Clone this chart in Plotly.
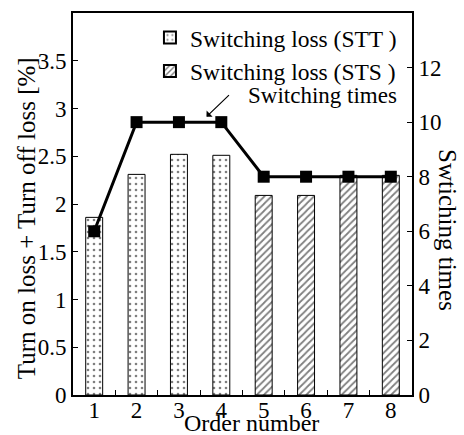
import plotly.graph_objects as go

orders = [1, 2, 3, 4, 5, 6, 7, 8]
stt_orders = [1, 2, 3, 4]
stt_loss = [1.86, 2.31, 2.52, 2.51]
sts_orders = [5, 6, 7, 8]
sts_loss = [2.09, 2.09, 2.30, 2.30]
switching_times = [6, 10, 10, 10, 8, 8, 8, 8]

FONT = "Liberation Serif, Times New Roman, DejaVu Serif, serif"

fig = go.Figure()
fig.add_trace(go.Bar(
    x=stt_orders, y=stt_loss, name="Switching loss (STT )", width=0.4,
    marker=dict(color="white", line=dict(color="black", width=1),
                pattern=dict(shape=".", fgcolor="black", bgcolor="white", size=6, solidity=0.15)),
))
fig.add_trace(go.Bar(
    x=sts_orders, y=sts_loss, name="Switching loss (STS )", width=0.4,
    marker=dict(color="white", line=dict(color="black", width=1),
                pattern=dict(shape="/", fgcolor="black", bgcolor="white", size=5, solidity=0.35)),
))
fig.add_trace(go.Scatter(
    x=orders, y=switching_times, yaxis="y2", mode="lines+markers", showlegend=False,
    line=dict(color="black", width=3),
    marker=dict(symbol="square", size=12, color="black"),
))

fig.update_layout(
    width=464, height=435,
    margin=dict(l=73, r=52, t=13, b=40, autoexpand=False),
    paper_bgcolor="white", plot_bgcolor="white",
    barmode="overlay",
    font=dict(family=FONT, size=23, color="black"),
    showlegend=True,
    legend=dict(x=0.227, y=0.993, xanchor="left", yanchor="top",
                bgcolor="rgba(0,0,0,0)", font=dict(size=23.5, family=FONT), tracegroupgap=0,
                itemsizing="constant"),
    xaxis=dict(range=[0.5, 8.5], tickvals=orders, ticktext=[str(o) for o in orders],
               ticks="", showline=True, linewidth=2, linecolor="black", mirror=True,
               showgrid=False, zeroline=False, automargin=False, ticklabelstandoff=-7,
               minor=dict(tickvals=[1.5, 2.5, 3.5, 4.5, 5.5, 6.5, 7.5], ticks="inside",
                          ticklen=5, tickwidth=1, tickcolor="black"),
               tickfont=dict(size=23, family=FONT)),
    yaxis=dict(range=[0, 4], tickvals=[0, 0.5, 1, 1.5, 2, 2.5, 3, 3.5],
               ticktext=["0", "0.5", "1", "1.5", "2", "2.5", "3", "3.5"],
               ticks="inside", ticklen=5, tickwidth=1, tickcolor="black",
               showline=True, linewidth=2, linecolor="black", mirror=True,
               showgrid=False, zeroline=False, automargin=False,
               tickfont=dict(size=23, family=FONT)),
    yaxis2=dict(range=[0, 14], tickvals=[0, 2, 4, 6, 8, 10, 12], overlaying="y", side="right",
                ticks="inside", ticklen=5, tickwidth=1, tickcolor="black",
                showline=True, linewidth=2, linecolor="black",
                showgrid=False, zeroline=False, automargin=False,
                tickfont=dict(size=23, family=FONT)),
)

fig.add_annotation(text="Turn on loss + Turn off loss [%]", xref="paper", yref="paper",
                   x=-0.1386, y=0.463, xanchor="center", yanchor="middle",
                   textangle=-90, showarrow=False, font=dict(size=25, family=FONT))
fig.add_annotation(text="Swtiching times", xref="paper", yref="paper",
                   x=1.103, y=0.432, xanchor="center", yanchor="middle",
                   textangle=90, showarrow=False, font=dict(size=25, family=FONT))
fig.add_annotation(text="Order number", xref="paper", yref="paper",
                   x=0.5265, y=-0.073, xanchor="center", yanchor="middle", showarrow=False,
                   font=dict(size=24, family=FONT))
fig.add_annotation(text="Switching times", xref="paper", yref="paper",
                   x=0.9617, y=0.785, xanchor="right", yanchor="middle", showarrow=False,
                   font=dict(size=23, family=FONT))
fig.add_annotation(text="", x=3.65, y=10.2, xref="x", yref="y2",
                   showarrow=True, arrowhead=1, arrowsize=1.2, arrowwidth=1.2,
                   arrowcolor="black", ax=24, ay=-23)

fig.write_html("out.html", config={"displayModeBar": False},
               post_script="document.body.style.margin='0';")
